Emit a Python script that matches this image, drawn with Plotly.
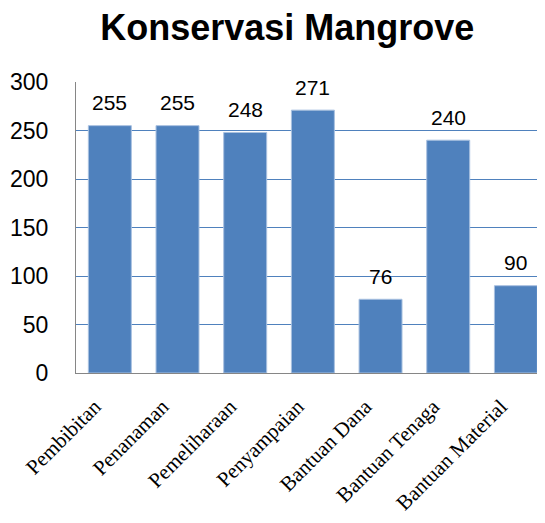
import plotly.graph_objects as go

categories = ["Pembibitan", "Penanaman", "Pemeliharaan", "Penyampaian",
              "Bantuan Dana", "Bantuan Tenaga", "Bantuan Material"]
values = [255, 255, 248, 271, 76, 240, 90]
y_ticks = [0, 50, 100, 150, 200, 250, 300]

fig = go.Figure(go.Bar(
    x=categories, y=values,
    marker=dict(color="#4F81BD", line=dict(color="#A9C1E0", width=1)),
    width=0.635,
    cliponaxis=False,
))

for c, v in zip(categories, values):
    fig.add_annotation(x=c, y=v, text=str(v), showarrow=False,
                       yanchor="middle", yshift=23,
                       font=dict(family="Liberation Sans, Arial", size=21, color="black"))

fig.update_layout(
    width=537, height=515,
    margin=dict(l=68, r=0, t=74, b=150),
    paper_bgcolor="white", plot_bgcolor="white",
    title=dict(text="<b>Konservasi Mangrove</b>", x=0.52, xanchor="center",
               y=0.963, yanchor="middle",
               font=dict(family="Liberation Sans, Arial", size=36, color="black")),
    showlegend=False,
)
fig.update_yaxes(range=[0, 300], tickvals=y_ticks, showgrid=True,
                 gridcolor="#4F81BD", gridwidth=1,
                 showline=True, linecolor="#868686", linewidth=1,
                 tickfont=dict(family="Liberation Sans, Arial", size=23, color="black"),
                 ticks="", zeroline=False, automargin=False,
                 ticklabelstandoff=22)
fig.update_xaxes(showline=True, linecolor="#868686", linewidth=1,
                 range=[-0.5, 6.43],
                 tickangle=-45, automargin=False,
                 ticklabelshift=-15, ticklabelstandoff=12,
                 tickfont=dict(family="Liberation Serif, Times New Roman", size=21, color="black"))

fig.write_html("out.html")
